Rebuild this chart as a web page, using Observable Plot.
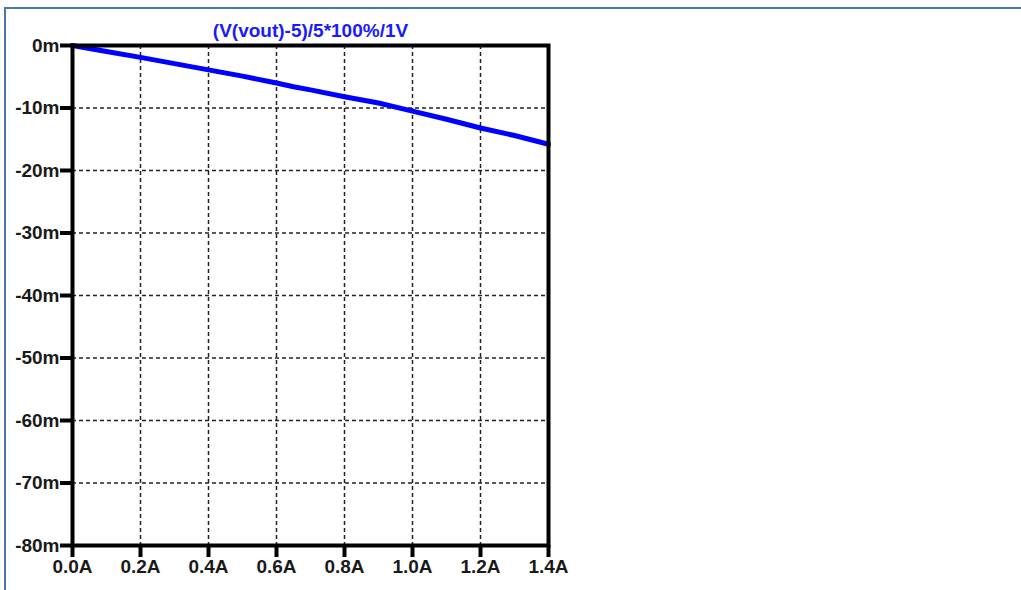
<!DOCTYPE html>
<html>
<head>
<meta charset="utf-8">
<script src="https://cdn.jsdelivr.net/npm/d3@7"></script>
<script src="https://cdn.jsdelivr.net/npm/@observablehq/plot@0.6"></script>
<style>
  html, body { margin: 0; padding: 0; background: #fff; }
  #wrap { position: relative; width: 1021px; height: 590px; overflow: hidden; }
  #frame { position: absolute; left: 4px; top: 7px; right: -10px; bottom: -10px;
           border-left: 2px solid #4a78a8; border-top: 2px solid #4a78a8; pointer-events: none; }
  #chart { position: absolute; left: 0; top: 0; }
</style>
</head>
<body>
<div id="wrap"><div id="chart"></div><div id="frame"></div></div>
<script>
const title = "(V(vout)-5)/5*100%/1V";
const currents = [0, 0.1, 0.2, 0.3, 0.4, 0.5, 0.6, 0.65, 0.7, 0.8, 0.9, 1.0, 1.1, 1.2, 1.3, 1.4];
const errors   = [0, -0.95, -1.9, -2.9, -3.9, -4.9, -6.0, -6.6, -7.1, -8.2, -9.2, -10.5, -11.8, -13.2, -14.4, -15.8];
const xTicks = [0, 0.2, 0.4, 0.6, 0.8, 1.0, 1.2, 1.4];
const yTicks = [0, -10, -20, -30, -40, -50, -60, -70, -80];

const data = currents.map((c, i) => ({x: c, y: errors[i]}));

const plot = Plot.plot({
  width: 1021,
  height: 590,
  marginLeft: 72,
  marginRight: 473,
  marginTop: 45,
  marginBottom: 45,
  style: {fontFamily: "Liberation Sans, Arial, sans-serif", fontSize: "19px", fontWeight: "bold", background: "transparent"},
  x: {domain: [0, 1.4]},
  y: {domain: [-80, 0]},
  marks: [
    Plot.gridX(xTicks.slice(1, -1), {stroke: "#222", strokeOpacity: 1, strokeWidth: 1.5, strokeDasharray: "4,3"}),
    Plot.gridY(yTicks.slice(1, -1), {stroke: "#222", strokeOpacity: 1, strokeWidth: 1.5, strokeDasharray: "4,3"}),
    Plot.line(data, {x: "x", y: "y", stroke: "#0000ff", strokeWidth: 5}),
    Plot.frame({stroke: "black", strokeWidth: 4}),
    Plot.axisX(xTicks, {tickSize: 12, strokeWidth: 4, stroke: "black", tickPadding: 2, fill: "#1a1a1a", fontSize: 19, fontWeight: "bold", label: null, tickFormat: d => d.toFixed(1) + "A"}),
    Plot.axisY(yTicks, {tickSize: 12, strokeWidth: 4, stroke: "black", tickPadding: 1, fill: "#1a1a1a", fontSize: 19, fontWeight: "bold", label: null, tickFormat: d => d + "m"}),
    Plot.text([title], {frameAnchor: "top", lineAnchor: "middle", dy: -15, text: d => d, fill: "#1a1aff", fontSize: 19, fontWeight: "bold"})
  ]
});
document.getElementById("chart").appendChild(plot);
</script>
</body>
</html>
